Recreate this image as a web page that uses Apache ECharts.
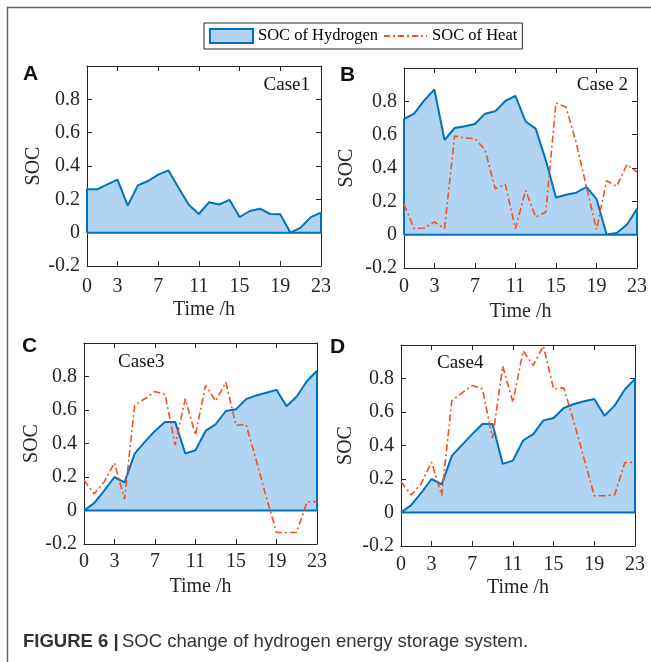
<!DOCTYPE html>
<html><head><meta charset="utf-8">
<script src="https://cdn.jsdelivr.net/npm/echarts@6/dist/echarts.min.js"></script>
<style>html,body{margin:0;padding:0;background:#fff}#c{width:651px;height:662px}</style>
</head><body><div id="c"></div>
<script>
// ---- data ----
const xTickLabels = [0, 3, 7, 11, 15, 19, 23];
const caseNames = ['Case1', 'Case 2', 'Case3', 'Case4'];
const panelLetters = ['A', 'B', 'C', 'D'];
const hydrogenA = [0.26, 0.26, 0.29, 0.318, 0.162, 0.284, 0.31, 0.348, 0.374, 0.27, 0.167, 0.112, 0.183, 0.169, 0.197, 0.094, 0.13, 0.144, 0.112, 0.111, 0.0, 0.03, 0.093, 0.12];
const hydrogenB = [0.694, 0.726, 0.806, 0.871, 0.568, 0.64, 0.65, 0.664, 0.726, 0.74, 0.802, 0.833, 0.679, 0.636, 0.446, 0.223, 0.24, 0.252, 0.286, 0.215, 0.001, 0.01, 0.06, 0.156];
const heatB = [0.182, 0.036, 0.04, 0.076, 0.036, 0.592, 0.58, 0.576, 0.51, 0.276, 0.302, 0.036, 0.266, 0.106, 0.136, 0.79, 0.764, 0.55, 0.29, 0.031, 0.324, 0.29, 0.421, 0.376];
const hydrogenC = [0.0, 0.044, 0.119, 0.2, 0.168, 0.34, 0.41, 0.475, 0.529, 0.529, 0.34, 0.36, 0.475, 0.515, 0.594, 0.604, 0.665, 0.687, 0.703, 0.72, 0.622, 0.681, 0.772, 0.834];
const heatC = [0.182, 0.099, 0.172, 0.285, 0.067, 0.628, 0.667, 0.711, 0.693, 0.39, 0.667, 0.45, 0.747, 0.653, 0.766, 0.509, 0.513, 0.3, 0.08, -0.131, -0.131, -0.131, 0.05, 0.053];
const hydrogenD = [0.0, 0.044, 0.118, 0.2, 0.168, 0.338, 0.404, 0.468, 0.528, 0.528, 0.29, 0.31, 0.43, 0.468, 0.55, 0.564, 0.624, 0.648, 0.664, 0.678, 0.578, 0.638, 0.734, 0.798];
const heatD = [0.184, 0.104, 0.174, 0.3, 0.102, 0.668, 0.714, 0.758, 0.738, 0.444, 0.874, 0.658, 0.964, 0.878, 0.994, 0.738, 0.744, 0.54, 0.32, 0.1, 0.1, 0.106, 0.298, 0.3];
const hydrogenSets = [hydrogenA, hydrogenB, hydrogenC, hydrogenD];
const heatSets = [null, heatB, heatC, heatD];

// ---- style ----
const BLUE = '#0072BD', FILL = '#B0D4F1', HEAT = '#F4511E', AX = '#262626';
const SERIF = 'Liberation Serif';
const grids = [
  {left: 87, top: 66, width: 234, height: 200},
  {left: 404, top: 68, width: 233, height: 200},
  {left: 84, top: 343, width: 233, height: 201},
  {left: 401, top: 345, width: 234, height: 201}
];
const yNameGaps = [43, 47, 42, 45];
const xLabelMargins = [11, 9, 8, 9];
const xNameGaps = [34, 34, 33, 32];

const xAxes = [], yAxes = [], series = [];
grids.forEach((g, i) => {
  const common = {
    gridIndex: i, type: 'value', min: 0, max: 23,
    axisLine: {show: true, onZero: false, lineStyle: {color: AX, width: 1}},
    splitLine: {show: false}
  };
  xAxes.push(Object.assign({}, common, {
    position: 'bottom',
    axisTick: {show: true, inside: true, length: 5, customValues: xTickLabels, lineStyle: {color: AX}},
    axisLabel: {show: true, customValues: xTickLabels, margin: xLabelMargins[i], fontFamily: SERIF, fontSize: 20, color: AX},
    name: 'Time /h', nameLocation: 'middle', nameGap: xNameGaps[i],
    nameTextStyle: {fontFamily: SERIF, fontSize: 20, color: AX}
  }));
  xAxes.push(Object.assign({}, common, {
    position: 'top',
    axisTick: {show: true, inside: true, length: 5, customValues: xTickLabels, lineStyle: {color: AX}},
    axisLabel: {show: false}
  }));
  const ycommon = {
    gridIndex: i, type: 'value', min: -0.2, max: 1.0, interval: 0.2,
    axisLine: {show: true, onZero: false, lineStyle: {color: AX, width: 1}},
    axisTick: {show: true, inside: true, length: 5, lineStyle: {color: AX}},
    splitLine: {show: false}
  };
  yAxes.push(Object.assign({}, ycommon, {
    position: 'left',
    axisLabel: {
      show: true, margin: 7, fontFamily: SERIF, fontSize: 20, color: AX,
      formatter: v => (v > 0.95 ? '' : (Math.abs(v) < 1e-9 ? '0' : (+v).toFixed(1)))
    },
    name: 'SOC', nameLocation: 'middle', nameRotate: 90, nameGap: yNameGaps[i],
    nameTextStyle: {fontFamily: SERIF, fontSize: 20, color: AX}
  }));
  yAxes.push(Object.assign({}, ycommon, {position: 'right', axisLabel: {show: false}}));

  const hv = hydrogenSets[i];
  const poly = [[0, 0]].concat(hv.map((v, h) => [h, v])).concat([[hv.length - 1, 0], [0, 0]]);
  series.push({
    name: 'SOC of Hydrogen', type: 'line', xAxisIndex: 2 * i, yAxisIndex: 2 * i,
    data: poly, showSymbol: false, symbol: 'none', smooth: false, silent: true,
    lineStyle: {color: BLUE, width: 2},
    itemStyle: {color: BLUE},
    areaStyle: {color: FILL, opacity: 1, origin: 0}
  });
  if (heatSets[i]) {
    series.push({
      name: 'SOC of Heat', type: 'line', xAxisIndex: 2 * i, yAxisIndex: 2 * i,
      data: heatSets[i].map((v, h) => [h, v]), showSymbol: false, symbol: 'none', silent: true,
      lineStyle: {color: HEAT, width: 1.6, type: [7, 3, 2, 3]},
      itemStyle: {color: HEAT}
    });
  }
});

const heatIcon = 'path://M0,0h6v2h-6zM9,0h2v2h-2zM14,0h6v2h-6zM23,0h2v2h-2zM28,0h6v2h-6zM37,0h2v2h-2zM42,0h1v2h-1z';

const graphics = [
  {type: 'line', shape: {x1: 7, y1: 7.5, x2: 651, y2: 7.5}, style: {stroke: '#666', lineWidth: 1.5}, silent: true},
  {type: 'line', shape: {x1: 7.5, y1: 7, x2: 7.5, y2: 662}, style: {stroke: '#666', lineWidth: 1.5}, silent: true},
  {type: 'text', left: 23, top: 64, style: {text: 'A', font: 'bold 21px "Liberation Sans"', fill: '#111'}},
  {type: 'text', left: 340, top: 65, style: {text: 'B', font: 'bold 21px "Liberation Sans"', fill: '#111'}},
  {type: 'text', left: 22, top: 336, style: {text: 'C', font: 'bold 21px "Liberation Sans"', fill: '#111'}},
  {type: 'text', left: 330, top: 337, style: {text: 'D', font: 'bold 21px "Liberation Sans"', fill: '#111'}},
  {type: 'text', x: 310, y: 85, style: {text: caseNames[0], font: '19px "Liberation Serif"', fill: '#111', align: 'right', verticalAlign: 'middle'}},
  {type: 'text', x: 628, y: 85, style: {text: caseNames[1], font: '19px "Liberation Serif"', fill: '#111', align: 'right', verticalAlign: 'middle'}},
  {type: 'text', x: 118, y: 362, style: {text: caseNames[2], font: '19px "Liberation Serif"', fill: '#111', align: 'left', verticalAlign: 'middle'}},
  {type: 'text', x: 437, y: 363, style: {text: caseNames[3], font: '19px "Liberation Serif"', fill: '#111', align: 'left', verticalAlign: 'middle'}},
  {type: 'text', x: 23, y: 642, style: {
    text: '{b|FIGURE 6 |} {n|SOC change of hydrogen energy storage system.}',
    verticalAlign: 'middle',
    rich: {
      b: {font: 'bold 18.5px "Liberation Sans"', fill: '#333'},
      n: {font: '18.5px "Liberation Sans"', fill: '#333'}
    }
  }}
];

const option = {
  animation: false,
  backgroundColor: '#fff',
  grid: grids,
  xAxis: xAxes,
  yAxis: yAxes,
  series: series,
  legend: {
    left: 204, top: 23, orient: 'horizontal', selectedMode: false,
    itemWidth: 43, itemHeight: 14, itemGap: 6, padding: [4, 5, 4, 5],
    borderColor: AX, borderWidth: 1, backgroundColor: '#fff',
    textStyle: {fontFamily: SERIF, fontSize: 16.5, color: '#000', lineHeight: 18},
    data: [
      {name: 'SOC of Hydrogen', icon: 'rect', itemStyle: {color: FILL, borderColor: BLUE, borderWidth: 2}},
      {name: 'SOC of Heat', icon: heatIcon, itemStyle: {color: HEAT, borderWidth: 0}}
    ]
  },
  graphic: graphics
};
const chart = echarts.init(document.getElementById('c'), null, {renderer: 'canvas'});
chart.setOption(option);
</script>
</body></html>
